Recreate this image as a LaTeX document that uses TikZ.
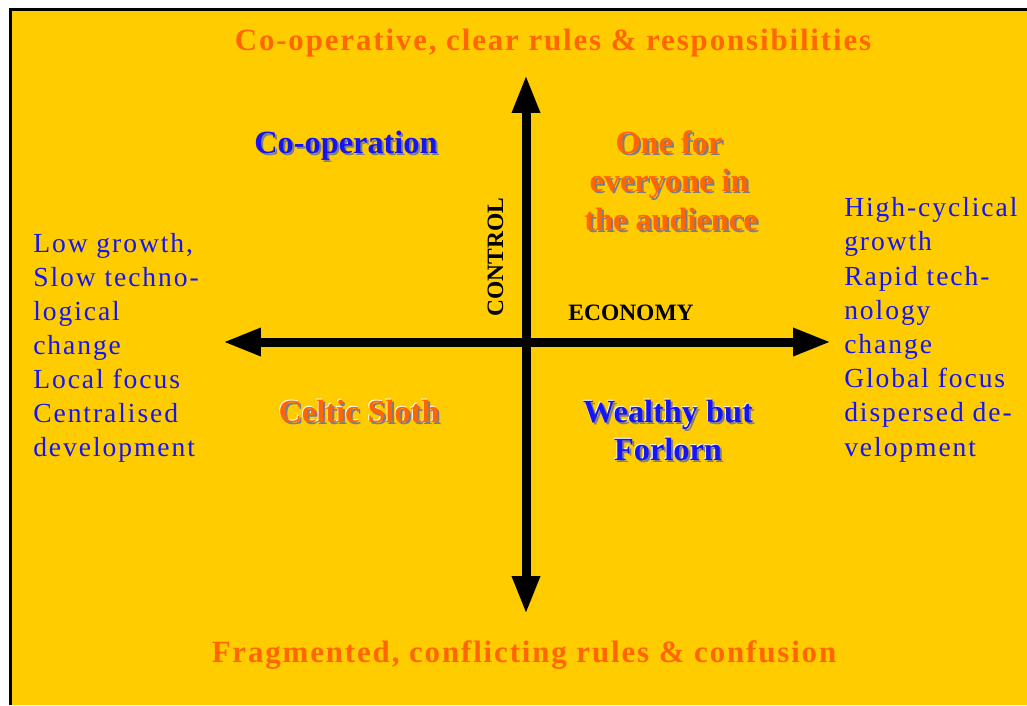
\documentclass[tikz,border=0pt]{standalone}
\usepackage{fontspec}
\setmainfont{Liberation Serif}
\newfontfamily\titlefont[LetterSpace=6]{Liberation Serif}
\newfontfamily\sidefont[LetterSpace=7]{Liberation Serif}
\usetikzlibrary{arrows.meta,calc}
\definecolor{paneyellow}{RGB}{255,204,0}
\definecolor{scenorange}{RGB}{255,102,0}
\definecolor{scenblue}{RGB}{20,20,245}
\definecolor{shadowgrey}{RGB}{125,125,135}
\tikzset{
  axis/.style={line width=6.4pt, {Triangle[length=27pt,width=18.5pt]}-{Triangle[length=27pt,width=18.5pt]}},
  scentitle/.style={inner sep=0, anchor=base, text=scenorange, font=\titlefont\bfseries\fontsize{22}{26}\selectfont},
  quadlabel/.style={inner sep=0, anchor=base, font=\bfseries\fontsize{23}{28}\selectfont},
  axislabel/.style={inner sep=0, anchor=base, font=\bfseries\fontsize{16.7}{20}\selectfont},
  sidetext/.style={inner sep=0, anchor=base west, text=scenblue, font=\sidefont\fontsize{19.6}{24}\selectfont},
}
\def\shadowlabel(#1)(#2)[#3]#4{%
  \node[quadlabel, text=shadowgrey] (#1shadow) at ($(#2)+(2,2)$) {#4};
  \node[quadlabel, text=#3] (#1) at (#2) {#4};}
\def\embosslabel(#1)(#2)[#3]#4{%
  \node[quadlabel, text=white] (#1light) at ($(#2)+(-0.8,-0.8)$) {#4};
  \shadowlabel(#1)(#2)[#3]{#4}}

\begin{document}
\begin{tikzpicture}[x=0.025cm, y=-0.025cm]
	%%%%% PANEL %%%%%
	\useasboundingbox (0,0) rectangle (1027,705);
	\fill[paneyellow] (10.5,9.5) rectangle (1027,705);
	\draw[line width=2.1pt] (10.5,705) -- (10.5,9.5) -- (1027,9.5);
	
	%%%%% AXES %%%%%
	\coordinate (controltop) at (526,75);
	\coordinate (controlbottom) at (526,614);
	\coordinate (economyleft) at (223,342);
	\coordinate (economyright) at (831,342);
	\draw[axis] (economyleft) -- (economyright);
	\draw[axis] (controlbottom) -- (controltop);
	
	\node[axislabel] (economy) at (631,320) {ECONOMY};
	\node[axislabel, rotate=90] (control) at (503,257) {CONTROL};
	
	%%%%% EXTREMES %%%%%
	\node[scentitle] (cooperative) at (553,50) {Co-operative, clear rules \& responsibilities};
	\node[scentitle] (fragmented) at (524,662) {Fragmented, conflicting rules \& confusion};
	
	%%%%% QUADRANTS %%%%%
	\shadowlabel(cooperation)(346,153)[scenblue]{Co-operation}
	\shadowlabel(onefor)(669,153)[scenorange]{One for}
	\shadowlabel(everyone)(669,191)[scenorange]{everyone in}
	\shadowlabel(audience)(671,230)[scenorange]{the audience}
	\embosslabel(celtic)(359,422)[scenorange]{Celtic Sloth}
	\embosslabel(wealthy)(668,422)[scenblue]{Wealthy but}
	\embosslabel(forlorn)(668,460)[scenblue]{Forlorn}
	
	%%%%% SIDES %%%%%
	\foreach \txt [count=\i] in {{Low growth,}, Slow techno-, logical, change, Local focus, Centralised, development}
		\node[sidetext] (left\i) at (33,{218+34*\i}) {\txt};
	\foreach \txt [count=\i] in {High-cyclical, growth, Rapid tech-, nology, change, Global focus, dispersed de-, velopment}
		\node[sidetext] (right\i) at (844,{182.5+34.2*\i}) {\txt};
\end{tikzpicture}
\end{document}
